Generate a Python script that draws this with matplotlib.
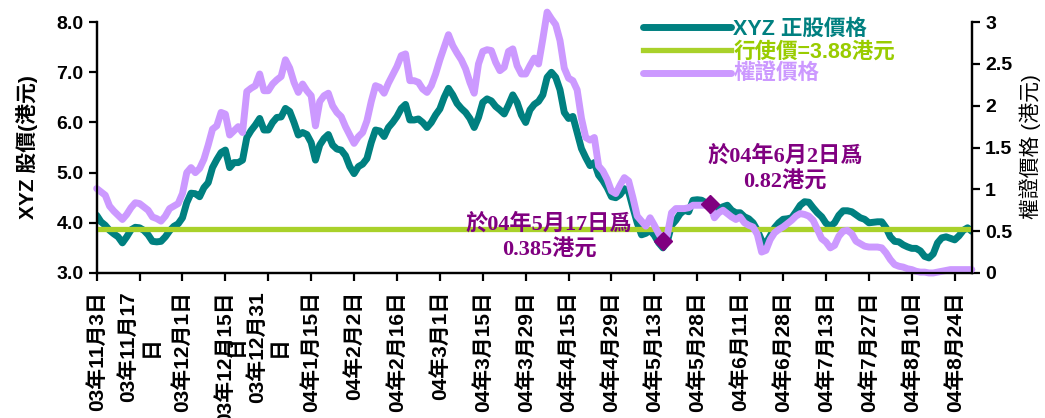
import matplotlib as mpl
mpl.use('Agg')
import numpy as np
import matplotlib.pyplot as plt
from matplotlib.lines import Line2D

plt.rcParams['font.family'] = ['Liberation Sans', 'Noto Sans CJK TC', 'DejaVu Sans']

# stock price (HK$), one value per trading day, 03/11/3 .. 04/8/27
stock = [4.15, 4.02, 3.95, 3.85, 3.78, 3.72, 3.60, 3.72, 3.86, 3.91,
         3.90, 3.85, 3.76, 3.63, 3.62, 3.63, 3.72, 3.84, 3.93, 3.98,
         4.10, 4.40, 4.59, 4.58, 4.52, 4.70, 4.80, 5.10, 5.26, 5.40,
         5.45, 5.10, 5.20, 5.20, 5.25, 5.70, 5.84, 5.95, 6.08, 5.85,
         5.85, 6.00, 6.10, 6.11, 6.28, 6.22, 6.00, 5.75, 5.80, 5.76,
         5.60, 5.25, 5.55, 5.68, 5.76, 5.55, 5.47, 5.45, 5.34, 5.12,
         4.98, 5.12, 5.17, 5.28, 5.60, 5.85, 5.83, 5.72, 5.90, 6.00,
         6.12, 6.28, 6.36, 6.05, 6.05, 6.07, 6.00, 5.90, 6.00, 6.15,
         6.27, 6.50, 6.68, 6.55, 6.38, 6.28, 6.20, 6.08, 5.90, 6.10,
         6.40, 6.47, 6.43, 6.32, 6.25, 6.17, 6.35, 6.55, 6.40, 6.15,
         6.00, 6.25, 6.36, 6.42, 6.55, 6.90, 7.00, 6.90, 6.65, 6.20,
         6.08, 6.12, 5.80, 5.48, 5.30, 5.14, 5.20, 4.95, 4.84, 4.70,
         4.52, 4.50, 4.56, 4.68, 4.62, 4.30, 4.00, 3.76, 3.79, 3.85,
         3.75, 3.60, 3.50, 3.62, 3.95, 4.05, 4.18, 4.25, 4.22, 4.45,
         4.46, 4.45, 4.40, 4.33, 4.22, 4.28, 4.32, 4.35, 4.25, 4.20,
         4.20, 4.12, 4.08, 4.00, 3.85, 3.65, 3.59, 3.74, 3.90, 4.00,
         4.07, 4.08, 4.10, 4.22, 4.35, 4.42, 4.41, 4.30, 4.20, 4.12,
         3.99, 3.93, 4.00, 4.15, 4.24, 4.24, 4.22, 4.16, 4.10, 4.07,
         4.00, 4.01, 4.02, 4.02, 3.90, 3.72, 3.63, 3.62, 3.56, 3.52,
         3.49, 3.49, 3.44, 3.33, 3.30, 3.38, 3.60, 3.70, 3.72, 3.69,
         3.66, 3.74, 3.85, 3.90, 3.83]

# warrant price (HK$)
warrant = [1.01, 0.97, 0.93, 0.80, 0.74, 0.69, 0.64, 0.70, 0.78, 0.84,
           0.83, 0.79, 0.75, 0.67, 0.65, 0.62, 0.68, 0.77, 0.80, 0.83,
           0.95, 1.20, 1.26, 1.20, 1.25, 1.36, 1.53, 1.72, 1.76, 1.92,
           1.90, 1.65, 1.70, 1.75, 1.68, 2.17, 2.21, 2.24, 2.38, 2.18,
           2.18, 2.26, 2.31, 2.35, 2.55, 2.45, 2.28, 2.16, 2.26, 2.18,
           2.12, 1.76, 2.05, 2.12, 2.15, 2.00, 1.92, 1.87, 1.75, 1.65,
           1.55, 1.63, 1.68, 1.82, 2.05, 2.24, 2.22, 2.15, 2.27, 2.37,
           2.47, 2.60, 2.62, 2.30, 2.30, 2.28, 2.20, 2.16, 2.24, 2.38,
           2.55, 2.70, 2.85, 2.72, 2.63, 2.55, 2.44, 2.28, 2.15, 2.50,
           2.65, 2.67, 2.66, 2.52, 2.42, 2.46, 2.65, 2.68, 2.48, 2.38,
           2.38, 2.48, 2.57, 2.50, 2.80, 3.12, 3.04, 2.97, 2.78, 2.45,
           2.33, 2.30, 2.19, 1.85, 1.62, 1.59, 1.62, 1.28, 1.22, 1.12,
           0.98, 0.95, 1.05, 1.14, 1.10, 0.90, 0.68, 0.62, 0.56, 0.66,
           0.57, 0.47, 0.385, 0.45, 0.72, 0.77, 0.77, 0.77, 0.78, 0.81,
           0.81, 0.81, 0.81, 0.82, 0.66, 0.72, 0.75, 0.71, 0.67, 0.64,
           0.67, 0.60, 0.57, 0.55, 0.46, 0.25, 0.27, 0.40, 0.48, 0.52,
           0.55, 0.59, 0.63, 0.68, 0.71, 0.70, 0.68, 0.63, 0.52, 0.41,
           0.37, 0.30, 0.33, 0.44, 0.50, 0.51, 0.47, 0.38, 0.35, 0.32,
           0.31, 0.31, 0.31, 0.30, 0.24, 0.16, 0.10, 0.08, 0.07, 0.05,
           0.04, 0.02, 0.01, 0.01, 0.00, 0.00, 0.01, 0.02, 0.03, 0.04,
           0.04, 0.04, 0.04, 0.04, 0.04]

strike = 3.88

tick_labels = ["03年11月3日", "03年11月17\n日", "03年12月1日", "03年12月15日",
               "03年12月31\n日", "04年1月15日", "04年2月2日", "04年2月16日",
               "04年3月1日", "04年3月15日", "04年3月29日", "04年4月15日",
               "04年4月29日", "04年5月13日", "04年5月28日", "04年6月11日",
               "04年6月28日", "04年7月13日", "04年7月27日", "04年8月10日",
               "04年8月24日"]
tick_every = 10

# marked points: day index and warrant price
marks_idx = [132, 143]
marks_val = [0.385, 0.82]
marks_txt = ["於04年5月17日爲\n0.385港元", "於04年6月2日爲\n0.82港元"]

teal = '#008080'
lime = '#a9d12a'
lilac = '#cc99ff'
plum = '#800080'

x = np.arange(len(stock))

fig = plt.figure(figsize=(10.45, 4.18), dpi=100)
ax = fig.add_axes([0.0925, 0.347, 0.8375, 0.6])
ax2 = ax.twinx()

ax.plot(x, stock, color=teal, lw=5, solid_capstyle='round', solid_joinstyle='round', zorder=2)
ax.axhline(strike, color=lime, lw=3.8, zorder=3)
ax2.plot(x, warrant, color=lilac, lw=5, solid_capstyle='round', solid_joinstyle='round',
         clip_on=False, zorder=2)
ax2.plot(marks_idx, marks_val, ls='none', marker='D', ms=9, color=plum, zorder=4)

ax.set_xlim(0, len(stock) - 1)
ax.set_ylim(3, 8)
ax2.set_ylim(0, 3)
ax.set_yticks(np.arange(3, 8.01, 1))
ax.set_yticklabels(["%.1f" % v for v in np.arange(3, 8.01, 1)])
ax2.set_yticks(np.arange(0, 3.01, 0.5))
ax2.set_yticklabels(["0", "0.5", "1", "1.5", "2", "2.5", "3"])
ax.set_xticks(np.arange(0, len(tick_labels) * tick_every, tick_every))
ax.set_xticklabels(tick_labels, rotation=90, fontweight='bold', multialignment='center')

for a in (ax, ax2):
    a.spines['top'].set_visible(False)
    for s in ('left', 'right', 'bottom'):
        a.spines[s].set_linewidth(1.6)
    a.tick_params(direction='out', length=6, width=1.6, labelsize=14)
ax.tick_params(axis='x', pad=7, labelsize=15)
for lab in ax.get_yticklabels() + ax2.get_yticklabels():
    lab.set_fontweight('bold')

# stray wrapped character seen under the 03/12/31 label
ax.text(32.6, -0.29, "日", transform=ax.get_xaxis_transform(), rotation=90,
        ha='center', va='center', fontsize=15, fontweight='bold')

fig.text(27 / 1045, 1 - 147 / 418, "XYZ 股價(港元)", rotation=90, ha='center', va='center',
         fontsize=15, fontweight='bold')
fig.text(1030 / 1045, 1 - 147 / 418, "權證價格 (港元)", rotation=90, ha='center', va='center',
         fontsize=15)

serif_cjk = ['Liberation Serif', 'Noto Sans CJK TC']
ax2.text(marks_idx[0] - 26.5, 0.43, marks_txt[0], ha='center', va='center', color=plum,
         fontsize=16, fontweight='bold', linespacing=1.3, family=serif_cjk)
ax2.text(marks_idx[1] + 17.5, 1.24, marks_txt[1], ha='center', va='center', color=plum,
         fontsize=16, fontweight='bold', linespacing=1.3, family=serif_cjk)

handles = [Line2D([], [], color=teal, lw=5, solid_capstyle='round'),
           Line2D([], [], color=lime, lw=3.8),
           Line2D([], [], color=lilac, lw=5, solid_capstyle='round')]
labels = ["XYZ 正股價格", "行使價=3.88港元", "權證價格"]
leg = ax2.legend(handles, labels, loc='upper left', bbox_to_anchor=(643 / 1045, 0.955),
                 bbox_transform=fig.transFigure, frameon=False, borderpad=0,
                 borderaxespad=0, handlelength=4.1, handletextpad=0.1, labelspacing=0.08,
                 prop={'size': 15.5, 'weight': 'bold'})
for txt, c in zip(leg.get_texts(), [teal, '#99cc00', lilac]):
    txt.set_color(c)

fig.savefig('out.png', dpi=100)
